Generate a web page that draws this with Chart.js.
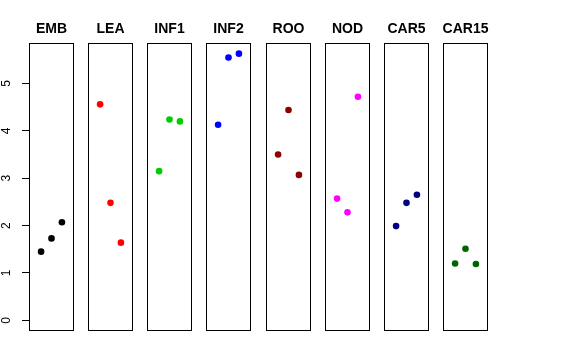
<!DOCTYPE html>
<html>
<head>
<meta charset="utf-8">
<script src="https://cdn.jsdelivr.net/npm/chart.js@4/dist/chart.umd.min.js"></script>
<style>
html, body { margin: 0; padding: 0; background: #fff; }
#wrap { position: relative; width: 576px; height: 360px; overflow: hidden; }
#wrap canvas { position: absolute; top: 0; }
</style>
</head>
<body>
<div id="wrap"></div>
<script>
// panel names, x positions inside each panel, y tick values
const panels = ['EMB', 'LEA', 'INF1', 'INF2', 'ROO', 'NOD', 'CAR5', 'CAR15'];
const positions = [1, 2, 3];
const yTicks = [0, 1, 2, 3, 4, 5];

// values (one array per panel)
const embValues = [1.45, 1.73, 2.07];
const leaValues = [4.56, 2.48, 1.64];
const inf1Values = [3.15, 4.24, 4.20];
const inf2Values = [4.13, 5.55, 5.63];
const rooValues = [3.50, 4.44, 3.07];
const nodValues = [2.57, 2.28, 4.72];
const car5Values = [1.99, 2.48, 2.65];
const car15Values = [1.20, 1.51, 1.19];

const seriesValues = [embValues, leaValues, inf1Values, inf2Values, rooValues, nodValues, car5Values, car15Values];
const colors = ['#000000', '#FF0000', '#00CD00', '#0000FF', '#8B0000', '#FF00FF', '#000080', '#006400'];

const FONT = '"Liberation Sans", Arial, Helvetica, sans-serif';

// box around the panel, bold title above it, rotated y labels on the first one
const panelFrame = {
    id: 'panelFrame',
    afterDraw(chart, args, opts) {
        const { ctx, chartArea: a } = chart;
        ctx.save();
        ctx.strokeStyle = '#000';
        ctx.lineWidth = 1;
        ctx.strokeRect(a.left + 0.5, a.top + 0.5, a.right - a.left - 1, a.bottom - a.top - 1);

        ctx.fillStyle = '#000';
        ctx.font = 'bold 14px ' + FONT;
        ctx.textAlign = 'center';
        ctx.textBaseline = 'alphabetic';
        ctx.fillText(opts.title, (a.left + a.right) / 2, 33);

        if (opts.yLabels) {
            const y = chart.scales.y;
            ctx.font = '12px ' + FONT;
            yTicks.forEach(v => {
                ctx.save();
                ctx.translate(9.5, y.getPixelForValue(v));
                ctx.rotate(-Math.PI / 2);
                ctx.fillText(String(v), 0, 0);
                ctx.restore();
            });
        }
        ctx.restore();
    }
};

const wrap = document.getElementById('wrap');

panels.forEach((name, i) => {
    const boxLeft = Math.round(29 + i * 59.14);
    const first = i === 0;
    const padL = first ? 29 : 6;
    const canvas = document.createElement('canvas');
    canvas.width = padL + 45 + 4;
    canvas.height = 360;
    canvas.style.left = (boxLeft - padL) + 'px';
    wrap.appendChild(canvas);

    new Chart(canvas, {
        type: 'scatter',
        data: {
            datasets: [{
                data: positions.map((x, j) => ({ x, y: seriesValues[i][j] })),
                backgroundColor: colors[i],
                borderWidth: 0,
                pointRadius: 3.3,
                pointHoverRadius: 3.3
            }]
        },
        options: {
            responsive: false,
            animation: false,
            events: [],
            layout: { padding: { left: first ? padL - 7 : padL, right: 4, top: 43, bottom: 29 } },
            plugins: {
                legend: { display: false },
                tooltip: { enabled: false },
                panelFrame: { title: name, yLabels: first }
            },
            scales: {
                x: { type: 'linear', min: -0.16, max: 4.16, display: false },
                y: {
                    type: 'linear',
                    min: -0.225,
                    max: 5.855,
                    display: first,
                    afterFit: s => { s.width = first ? 7 : 0; },
                    afterBuildTicks: s => { s.ticks = yTicks.map(v => ({ value: v })); },
                    ticks: { display: false },
                    grid: { drawOnChartArea: false, drawTicks: true, tickLength: 7, color: '#000', lineWidth: 1 },
                    border: { display: false }
                }
            }
        },
        plugins: [panelFrame]
    });
});
</script>
</body>
</html>
